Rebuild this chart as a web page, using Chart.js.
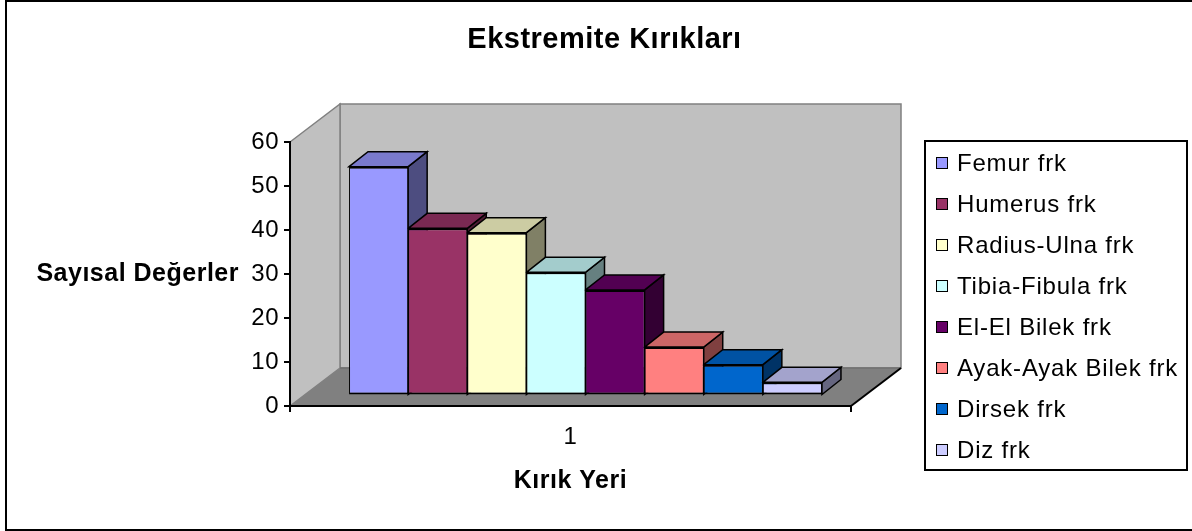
<!DOCTYPE html>
<html><head><meta charset="utf-8">
<script src="https://cdn.jsdelivr.net/npm/chart.js@4.4.1/dist/chart.umd.min.js"></script>
<style>html,body{margin:0;padding:0;background:#fff;}canvas{display:block;}</style>
</head><body>
<canvas id="c" width="1192" height="531"></canvas>
<script>
const chartTitle = 'Ekstremite Kırıkları';
const categories = ['1'];
const seriesNames = ['Femur frk','Humerus frk','Radius-Ulna frk','Tibia-Fibula frk','El-El Bilek frk','Ayak-Ayak Bilek frk','Dirsek frk','Diz frk'];
const seriesValues = [52, 38, 37, 28, 24, 11, 7, 3];
const seriesColors = ['#9999FF','#993366','#FFFFCC','#CCFFFF','#660066','#FF8080','#0066CC','#CCCCFF'];
const yTicks = [0, 10, 20, 30, 40, 50, 60];
const xAxisTitle = 'Kırık Yeri';
const yAxisTitle = 'Sayısal Değerler';

const FONT = '"Liberation Sans", Arial, sans-serif';
const WALL = {dx: 50, dy: -38};
const SHIFT = {dx: 15, dy: -10.5};
const DEPTH = {dx: 19, dy: -15};

function shade(hex, f) {
  const n = parseInt(hex.slice(1), 16);
  const r = Math.round(((n >> 16) & 255) * f), g = Math.round(((n >> 8) & 255) * f), b = Math.round((n & 255) * f);
  return 'rgb(' + r + ',' + g + ',' + b + ')';
}
function poly(ctx, pts) {
  ctx.beginPath();
  ctx.moveTo(pts[0][0], pts[0][1]);
  for (let i = 1; i < pts.length; i++) ctx.lineTo(pts[i][0], pts[i][1]);
  ctx.closePath();
}

const threeD = {
  id: 'threeD',
  beforeDraw(chart) {
    const ctx = chart.ctx;
    ctx.letterSpacing = '0.5px';
    const {left: L, right: R, top: T, bottom: B} = chart.chartArea;
    const dx = WALL.dx, dy = WALL.dy;
    ctx.save();
    ctx.fillStyle = '#fff';
    ctx.fillRect(0, 0, chart.width, chart.height);
    ctx.lineWidth = 1.5;
    ctx.strokeStyle = '#808080';
    ctx.fillStyle = '#C0C0C0';
    poly(ctx, [[L + dx, T + dy], [R + dx, T + dy], [R + dx, B + dy], [L + dx, B + dy]]);
    ctx.fill(); ctx.stroke();
    poly(ctx, [[L, T], [L + dx, T + dy], [L + dx, B + dy], [L, B]]);
    ctx.fill(); ctx.stroke();
    ctx.fillStyle = '#808080';
    poly(ctx, [[L, B], [L + dx, B + dy], [R + dx, B + dy], [R, B]]);
    ctx.fill();
    ctx.strokeStyle = '#707070';
    ctx.beginPath(); ctx.moveTo(L + dx, B + dy); ctx.lineTo(R + dx, B + dy); ctx.stroke();
    ctx.strokeStyle = '#000'; ctx.lineWidth = 2;
    ctx.beginPath(); ctx.moveTo(R, B); ctx.lineTo(R + dx, B + dy); ctx.stroke();
    ctx.restore();
  },
  beforeDatasetsDraw(chart) {
    const ctx = chart.ctx;
    ctx.save();
    ctx.translate(SHIFT.dx, SHIFT.dy);
    ctx.lineWidth = 1.5;
    ctx.strokeStyle = '#000';
    ctx.lineJoin = 'miter';
    chart.data.datasets.forEach((ds, i) => {
      const el = chart.getDatasetMeta(i).data[0];
      if (!el) return;
      const l = el.x - el.width / 2, r = el.x + el.width / 2, t = el.y, b = el.base;
      const col = seriesColors[i];
      ctx.fillStyle = shade(col, 0.5);
      poly(ctx, [[r, t], [r + DEPTH.dx, t + DEPTH.dy], [r + DEPTH.dx, b + DEPTH.dy], [r, b]]);
      ctx.fill(); ctx.stroke();
      ctx.fillStyle = shade(col, 0.8);
      poly(ctx, [[l, t], [l + DEPTH.dx, t + DEPTH.dy], [r + DEPTH.dx, t + DEPTH.dy], [r, t]]);
      ctx.fill(); ctx.stroke();
    });
  },
  afterDatasetsDraw(chart) {
    chart.ctx.restore();
  },
  afterDraw(chart) {
    const ctx = chart.ctx;
    ctx.save();
    ctx.fillStyle = '#000';
    ctx.letterSpacing = '0.5px';
    ctx.font = 'bold 25px ' + FONT;
    ctx.textAlign = 'right';
    ctx.textBaseline = 'middle';
    ctx.fillText(yAxisTitle, 239, chart.scales.y.getPixelForValue(30));
    ctx.lineWidth = 2;
    ctx.strokeStyle = '#000';
    ctx.strokeRect(925, 141, 262, 329);
    ctx.font = '24px ' + FONT;
    ctx.letterSpacing = '0.8px';
    ctx.textAlign = 'left';
    seriesNames.forEach((name, i) => {
      const y = 163 + i * 41;
      ctx.fillStyle = seriesColors[i];
      ctx.fillRect(936, y - 6, 12, 12);
      ctx.lineWidth = 1;
      ctx.strokeRect(936.5, y - 5.5, 11, 11);
      ctx.fillStyle = '#000';
      ctx.fillText(name, 957, y + 1);
    });
    ctx.lineWidth = 2;
    ctx.strokeRect(6, 1, 1190, 529);
    ctx.restore();
  }
};

const datasets = seriesNames.map((name, i) => ({
  label: name,
  data: [seriesValues[i]],
  backgroundColor: seriesColors[i],
  borderColor: '#000',
  borderWidth: {top: 2, bottom: 2, left: 1, right: 1},
  borderSkipped: false,
  categoryPercentage: 0.843,
  barPercentage: 1.0,
  clip: false
}));

new Chart(document.getElementById('c'), {
  type: 'bar',
  data: {labels: categories, datasets: datasets},
  plugins: [threeD],
  options: {
    responsive: false,
    devicePixelRatio: 1,
    animation: false,
    layout: {padding: {left: 17, right: 0, top: 0, bottom: 0}},
    plugins: {
      legend: {display: false},
      tooltip: {enabled: false},
      title: {
        display: true, text: chartTitle, color: '#000',
        font: {family: FONT, size: 29, weight: 'bold', lineHeight: 1.2},
        padding: {top: 23, bottom: 84.2}
      }
    },
    scales: {
      x: {
        offset: true,
        ticks: {color: '#000', font: {family: FONT, size: 24}, padding: 11},
        grid: {offset: true, drawOnChartArea: false, color: '#000', tickLength: 6, lineWidth: 2},
        border: {display: true, color: '#000', width: 2},
        title: {display: true, text: xAxisTitle, color: '#000',
          font: {family: FONT, size: 25, weight: 'bold', lineHeight: 1.2},
          padding: {top: 0, bottom: 35}},
        afterFit: s => { s.height = 125; }
      },
      y: {
        min: 0, max: 60,
        afterBuildTicks: s => { s.ticks = yTicks.map(v => ({value: v})); },
        ticks: {color: '#000', font: {family: FONT, size: 24}, padding: 5},
        grid: {drawOnChartArea: false, color: '#000', tickLength: 6, lineWidth: 2},
        border: {display: true, color: '#000', width: 2},
        afterFit: s => { s.width = 273; }
      },
      y2: {
        position: 'right',
        display: true,
        ticks: {display: false},
        grid: {display: false},
        border: {display: false},
        afterFit: s => { s.width = 341; }
      }
    }
  }
});
</script>
</body></html>
